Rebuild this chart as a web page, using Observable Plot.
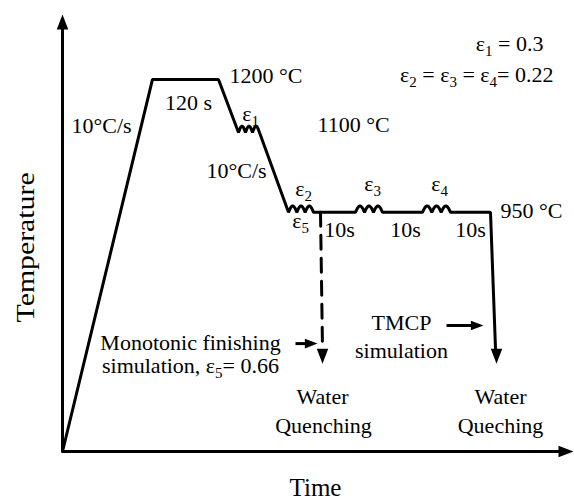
<!DOCTYPE html>
<html>
<head>
<meta charset="utf-8">
<script src="https://cdn.jsdelivr.net/npm/d3@7"></script>
<script src="https://cdn.jsdelivr.net/npm/@observablehq/plot@0.6"></script>
<style>
  html, body { margin: 0; padding: 0; background: #fff; }
</style>
</head>
<body>
<div id="chart"></div>
<script>
// Thermo-mechanical schedule: schematic time (arbitrary units) vs temperature (°C)

// Corner points of the TMCP schedule
const knotTime = [0, 90, 156, 176, 197, 226, 251, 293, 320, 360, 388, 428, 433];
const knotTemp = [500, 1200, 1200, 1100, 1100, 950, 950, 950, 950, 950, 950, 950, 694];
// Deformation passes (drawn as a squiggle) start at these knot indices
const passStartKnot = [3, 5, 7, 9];

// Monotonic finishing branch (dashed) and quench arrow tips
const monoTime = [258, 260];
const monoTemp = [950, 694];
const quenchTipTime = [260, 434];
const quenchTipTemp = [665, 665];

// Pointer arrows next to the notes
const pointerStartTime = [233, 384];
const pointerEndTime = [255, 421];
const pointerTemp = [703, 737];

// Axis arrows
const axisTime = [0, 0, 511];
const axisTemp = [1322, 500, 500];

// Annotations
const labelText = [
  "10°C/s", "120 s", "1200 °C", "ε_1", "1100 °C", "10°C/s",
  "ε_2", "ε_5", "10s", "10s", "10s", "ε_3", "ε_4", "950 °C",
  "ε_1 = 0.3", "ε_2 = ε_3 = ε_4= 0.22",
  "Monotonic finishing", "simulation, ε_5= 0.66",
  "Water", "Quenching", "TMCP", "simulation", "Water", "Queching"
];
const labelTime = [39, 126, 167, 188, 255, 174, 241, 238, 277, 343, 408, 310, 377, 438,
  481, 491, 128, 128, 260, 261, 339, 339, 438, 438];
const labelTemp = [1113, 1156, 1207, 1135, 1115, 1028, 994, 934, 916, 916, 916, 1003, 1003, 953,
  1266, 1209, 705, 660, 602, 549, 741, 690, 602, 549];
const labelAnchor = ["middle", "middle", "start", "middle", "start", "middle",
  "middle", "middle", "middle", "middle", "middle", "middle", "middle", "start",
  "end", "end", "middle", "middle", "middle", "middle", "middle", "middle", "middle", "middle"];

const axisTitles = ["Temperature", "Time"];

// ---- build drawing tables ----
const SQUIGGLE_HUMPS = 3, SQUIGGLE_RISE = 12, SQUIGGLE_STEPS = 36;
const profile = [];
knotTime.forEach((t, i) => {
  profile.push({t, T: knotTemp[i]});
  if (passStartKnot.includes(i)) {
    const t0 = t, t1 = knotTime[i + 1], T0 = knotTemp[i];
    for (let k = 1; k < SQUIGGLE_STEPS; k++) {
      const u = k / SQUIGGLE_STEPS;
      profile.push({t: t0 + u * (t1 - t0), T: T0 + SQUIGGLE_RISE * Math.abs(Math.sin(Math.PI * SQUIGGLE_HUMPS * u))});
    }
  }
});
const mono = monoTime.map((t, i) => ({t, T: monoTemp[i]}));
const quenchTips = quenchTipTime.map((t, i) => ({t, T: quenchTipTemp[i]}));
const pointers = pointerStartTime.map((t, i) => ({t1: t, t2: pointerEndTime[i] - 6, T: pointerTemp[i]}));
const pointerTips = pointerEndTime.map((t, i) => ({t, T: pointerTemp[i]}));
const labels = labelText.map((text, i) => ({text, t: labelTime[i], T: labelTemp[i], anchor: labelAnchor[i]}));

// Filled arrowheads with the tip at the anchor point
function head(dir) {
  return {
    draw(ctx, size) {
      const r = Math.sqrt(size / Math.PI), L = 3 * r, W = 1.15 * r;
      ctx.moveTo(0, 0);
      if (dir === "up") { ctx.lineTo(-W, L); ctx.lineTo(W, L); }
      else if (dir === "down") { ctx.lineTo(-W, -L); ctx.lineTo(W, -L); }
      else { ctx.lineTo(-L, -W); ctx.lineTo(-L, W); }
      ctx.closePath();
    }
  };
}

const serif = "'Liberation Serif', 'Times New Roman', serif";

const labelMarks = ["start", "middle", "end"].map(anchor =>
  Plot.text(labels.filter(d => d.anchor === anchor),
    {x: "t", y: "T", text: "text", textAnchor: anchor, fill: "#000", fontSize: 22}));

const chart = Plot.plot({
  width: 574,
  height: 500,
  margin: 0,
  x: {domain: [0, 512], range: [62, 574], axis: null},
  y: {domain: [500, 1324], range: [451, 13], axis: null},
  style: {fontFamily: serif, fontSize: "22px", background: "#fff", color: "#000"},
  marks: [
    // axes
    Plot.line([{t: axisTime[0], T: axisTemp[0] - 26}, {t: axisTime[1], T: axisTemp[1]}, {t: axisTime[2] - 12, T: axisTemp[2]}],
      {x: "t", y: "T", stroke: "#000", strokeWidth: 3, strokeLinejoin: "miter"}),
    Plot.dot([{t: axisTime[0], T: axisTemp[0]}], {x: "t", y: "T", r: 5, symbol: head("up"), fill: "#000", stroke: null}),
    Plot.dot([{t: axisTime[2], T: axisTemp[2]}], {x: "t", y: "T", r: 5, symbol: head("right"), fill: "#000", stroke: null}),

    // schedule
    Plot.line(profile, {x: "t", y: "T", stroke: "#000", strokeWidth: 3, strokeLinejoin: "miter", curve: "linear"}),
    Plot.line(mono, {x: "t", y: "T", stroke: "#000", strokeWidth: 3, strokeDasharray: "14,9"}),
    Plot.dot(quenchTips, {x: "t", y: "T", r: 5, symbol: head("down"), fill: "#000", stroke: null}),

    // note pointers
    Plot.link(pointers, {x1: "t1", x2: "t2", y1: "T", y2: "T", stroke: "#000", strokeWidth: 3}),
    Plot.dot(pointerTips, {x: "t", y: "T", r: 4.2, symbol: head("right"), fill: "#000", stroke: null}),

    // annotations
    ...labelMarks,
    Plot.text([axisTitles[0]], {x: -37, y: 884, text: d => d, rotate: -90, fontSize: 25, fill: "#000"}),
    Plot.text([axisTitles[1]], {x: 253, y: 432, text: d => d, fontSize: 25, fill: "#000"})
  ]
});

// Subscripts: "ε_1" -> ε with a lowered, smaller 1
for (const el of chart.querySelectorAll("text")) {
  const s = el.textContent;
  if (s === "Temperature") {
    el.setAttribute("textLength", "150");
    el.setAttribute("lengthAdjust", "spacingAndGlyphs");
    continue;
  }
  if (!s.includes("_")) continue;
  const parts = s.split(/_(\d)/);
  el.textContent = "";
  const ns = "http://www.w3.org/2000/svg";
  parts.forEach((p, i) => {
    if (i % 2 === 1) {
      const sub = document.createElementNS(ns, "tspan");
      sub.setAttribute("font-size", "15");
      sub.setAttribute("dy", "5");
      sub.textContent = p;
      el.appendChild(sub);
    } else if (p) {
      const span = document.createElementNS(ns, "tspan");
      if (i > 0) span.setAttribute("dy", "-5");
      span.textContent = p;
      el.appendChild(span);
    }
  });
}

document.getElementById("chart").appendChild(chart);
</script>
</body>
</html>
